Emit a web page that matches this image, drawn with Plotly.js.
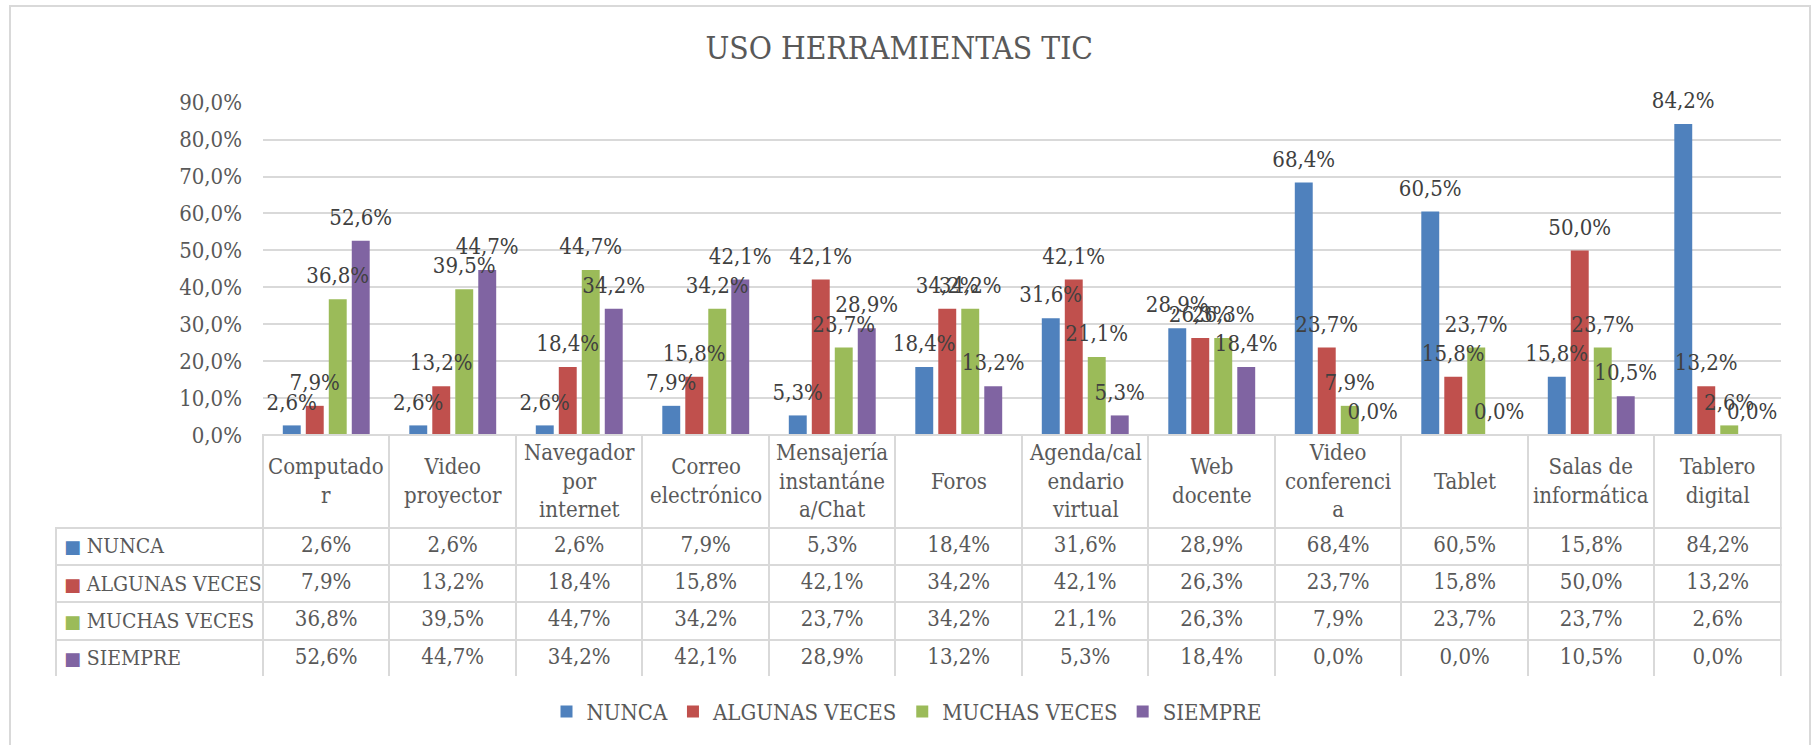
<!DOCTYPE html>
<html>
<head>
<meta charset="utf-8">
<script src="https://cdn.plot.ly/plotly-3.0.1.min.js"></script>
<style>html,body{margin:0;padding:0;background:#fff;}#chart{width:1813px;height:745px;}</style>
</head>
<body>
<div id="chart"></div>
<script>
// ---- data ----
const categories = [
  "Computado<br>r", "Video<br>proyector", "Navegador<br>por<br>internet", "Correo<br>electrónico",
  "Mensajería<br>instantáne<br>a/Chat", "Foros", "Agenda/cal<br>endario<br>virtual", "Web<br>docente",
  "Video<br>conferenci<br>a", "Tablet", "Salas de<br>informática", "Tablero<br>digital"
];
const seriesNames = ["NUNCA", "ALGUNAS VECES", "MUCHAS VECES", "SIEMPRE"];
const nunca   = [2.6, 2.6, 2.6, 7.9, 5.3, 18.4, 31.6, 28.9, 68.4, 60.5, 15.8, 84.2];
const algunas = [7.9, 13.2, 18.4, 15.8, 42.1, 34.2, 42.1, 26.3, 23.7, 15.8, 50.0, 13.2];
const muchas  = [36.8, 39.5, 44.7, 34.2, 23.7, 34.2, 21.1, 26.3, 7.9, 23.7, 23.7, 2.6];
const siempre = [52.6, 44.7, 34.2, 42.1, 28.9, 13.2, 5.3, 18.4, 0.0, 0.0, 10.5, 0.0];
const yTicks  = [0, 10, 20, 30, 40, 50, 60, 70, 80, 90];

// ---- style ----
const colors = ["#4f81bd", "#c0504d", "#9bbb59", "#8064a2"];
const FONT = "'DejaVu Serif Condensed', 'DejaVu Serif', serif";
const W = 1813, H = 745;
const px = v => v / W;
const py = v => 1 - v / H;
const lineCol = '#d9d9d9';

const fmt = v => v.toFixed(1).replace('.', ',') + '%';
const allSeries = [nunca, algunas, muchas, siempre];

// coloured bars
const traces = allSeries.map((vals, i) => ({
  type: 'bar',
  name: seriesNames[i],
  x: categories,
  y: vals,
  offsetgroup: 'g' + i,
  marker: {color: colors[i]},
  hoverinfo: 'none'
}));

// value labels above the bars (drawn after all bars)
allSeries.forEach((vals, i) => traces.push({
  type: 'scatter',
  mode: 'markers+text',
  x: categories,
  y: vals,
  offsetgroup: 'g' + i,
  text: vals.map(fmt),
  textposition: 'top center',
  marker: {size: 15, color: 'rgba(0,0,0,0)'},
  cliponaxis: false,
  textfont: {family: FONT, size: 22, color: '#404040'},
  showlegend: false,
  hoverinfo: 'none'
}));

// data table values (rows on a category y axis under the plot)
allSeries.forEach((vals, i) => traces.push({
  type: 'scatter',
  mode: 'text',
  x: categories,
  y: categories.map(() => seriesNames[i]),
  yaxis: 'y2',
  alignmentgroup: 'tbl',
  offsetgroup: 'tbl',
  text: vals.map(fmt),
  textposition: 'middle center',
  cliponaxis: false,
  textfont: {family: FONT, size: 22, color: '#595959'},
  showlegend: false,
  hoverinfo: 'none'
}));

// table grid
const emptyCol = seriesNames.map(() => '');
traces.push({
  type: 'table',
  domain: {x: [px(55.7), px(1781)], y: [py(677), py(435)]},
  columnwidth: [207.3].concat(categories.map(() => 126.5)),
  header: {
    values: [''].concat(categories.map(() => '')),
    height: 92.7,
    line: {color: ['rgba(0,0,0,0)'].concat(categories.map(() => lineCol)), width: 2},
    fill: {color: 'rgba(0,0,0,0)'}
  },
  cells: {
    values: [emptyCol].concat(categories.map(() => emptyCol)),
    height: 37.3,
    line: {color: lineCol, width: 2},
    fill: {color: 'rgba(0,0,0,0)'}
  }
});

// category header texts
const annotations = categories.map(c => ({
  x: c, xref: 'x', y: py(481.3), yref: 'paper',
  text: c, showarrow: false, xanchor: 'center', yanchor: 'middle',
  align: 'center',
  font: {family: FONT, size: 22, color: '#595959'}
}));
// legend keys in the table's first column
seriesNames.forEach((n, i) => annotations.push({
  x: px(62), xref: 'paper', xanchor: 'left',
  y: n, yref: 'y2', yanchor: 'middle',
  text: '<span style="color:' + colors[i] + ';font-family:DejaVu Sans;font-size:18px">■ </span>' + n,
  showarrow: false, align: 'left',
  font: {family: FONT, size: 21, color: '#595959'}
}));

const layout = {
  width: W, height: H,
  margin: {l: 0, r: 0, t: 0, b: 0},
  paper_bgcolor: 'white', plot_bgcolor: 'white',
  separators: ',.',
  title: {
    text: 'USO HERRAMIENTAS TIC',
    x: 0.496, xref: 'paper', xanchor: 'center',
    y: py(48), yref: 'paper', yanchor: 'middle',
    font: {family: FONT, size: 31.5, color: '#595959'}
  },
  barmode: 'group',
  bargap: 0.273,
  bargroupgap: 0.22,
  scattermode: 'group',
  scattergap: 0.273,
  xaxis: {
    domain: [px(263), px(1781)],
    showticklabels: false, ticks: '',
    showgrid: false, zeroline: false, showline: false,
    fixedrange: true
  },
  yaxis: {
    domain: [py(435), py(102.7)],
    range: [0, 90],
    tickmode: 'array',
    tickvals: yTicks,
    ticktext: yTicks.map(fmt),
    showgrid: true, gridcolor: lineCol, gridwidth: 2,
    zeroline: false, showline: false, ticks: '',
    ticklabelstandoff: 20,
    tickfont: {family: FONT, size: 22, color: '#595959'},
    fixedrange: true
  },
  yaxis2: {
    domain: [py(676.7), py(527.7)],
    type: 'category',
    categoryorder: 'array',
    categoryarray: seriesNames,
    range: [3.5, -0.5],
    anchor: 'x',
    showticklabels: false, showgrid: false, zeroline: false, showline: false, ticks: '',
    fixedrange: true
  },
  showlegend: true,
  legend: {
    orientation: 'h',
    x: 0.5, xanchor: 'center',
    y: py(711.7), yanchor: 'middle',
    font: {family: FONT, size: 22, color: '#595959'},
    bgcolor: 'rgba(0,0,0,0)'
  },
  annotations: annotations,
  shapes: [{
    type: 'rect', xref: 'paper', yref: 'paper',
    x0: px(10), x1: px(1810), y0: py(760), y1: py(6),
    line: {color: lineCol, width: 2}, fillcolor: 'rgba(0,0,0,0)', layer: 'below'
  }]
};

Plotly.newPlot('chart', traces, layout, {displayModeBar: false, staticPlot: true});
</script>
</body>
</html>
